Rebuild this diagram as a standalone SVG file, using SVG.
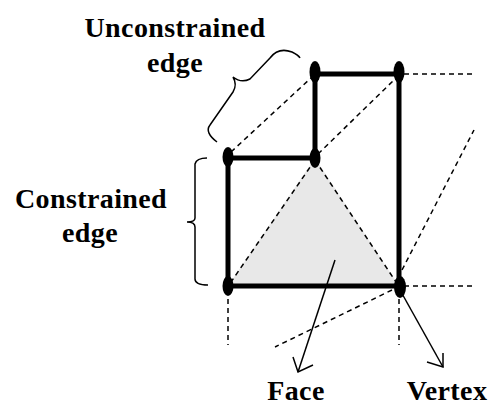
<svg xmlns="http://www.w3.org/2000/svg" width="492" height="407" viewBox="0 0 492 407">
<style>
.lbl{font-family:"Liberation Serif","Times New Roman",serif;font-weight:bold;font-size:28px;fill:#000;text-anchor:middle;letter-spacing:0.4px}
.edge{stroke:#000;stroke-width:5;fill:none;stroke-linecap:butt}
.dash{stroke:#000;stroke-width:1.5;fill:none;stroke-dasharray:5 4}
.thin{stroke:#000;stroke-width:1.5;fill:none}
.vtx{fill:#000}
</style>
<rect width="492" height="407" fill="#fff"/>
<g id="face-region">
<polygon points="315,158 228,286 399,286" fill="#e8e8e8"/>
</g>
<g id="connectors">
<line class="dash" x1="315" y1="160" x2="231" y2="282"/>
<line class="dash" x1="315" y1="160" x2="396" y2="282"/>
<line class="dash" x1="231" y1="152" x2="312" y2="77"/>
<line class="dash" x1="318" y1="154" x2="396" y2="78"/>
<line class="dash" x1="404" y1="74" x2="472" y2="74"/>
<line class="dash" x1="404" y1="286" x2="472" y2="286"/>
<line class="dash" x1="402" y1="270" x2="474" y2="130"/>
<line class="dash" x1="392" y1="290" x2="275" y2="347"/>
<line class="dash" x1="228" y1="299" x2="228" y2="345"/>
<line class="dash" x1="399" y1="299" x2="399" y2="345"/>
<line class="edge" x1="315" y1="74" x2="399" y2="74"/>
<line class="edge" x1="315" y1="74" x2="315" y2="158"/>
<line class="edge" x1="228" y1="158" x2="315" y2="158"/>
<line class="edge" x1="228" y1="158" x2="228" y2="286"/>
<line class="edge" x1="228" y1="286" x2="399" y2="286"/>
<line class="edge" x1="399" y1="74" x2="399" y2="286"/>
<g id="face-arrow">
<line class="thin" x1="335" y1="260" x2="298" y2="372"/>
<polyline class="thin" points="293,357 298,372 313,365"/>
</g>
<g id="vertex-arrow">
<line class="thin" x1="400" y1="290" x2="443" y2="367"/>
<polyline class="thin" points="427,362 443,367 443,353"/>
</g>
<path id="brace-unconstrained" class="thin" d="M217,142 C209,136 206,130 210,125 L233,92 C236,87 236,82 233,77 C238,81 244,82 250,79 L270,58 C276,50 284,49 292,52 C296,54 299,56 300,58"/>
<path id="brace-constrained" class="thin" d="M207,158 C201,158 196,160 195,164 L195,218 C195,221 192,222 187,222 C192,222 195,224 195,227 L195,279 C195,283 199,285 208,285"/>
</g>
<g id="vertex-A"><ellipse class="vtx" cx="228" cy="157" rx="5.5" ry="10"/></g>
<g id="vertex-B"><ellipse class="vtx" cx="315" cy="158" rx="5.5" ry="10"/></g>
<g id="vertex-C"><ellipse class="vtx" cx="315" cy="72" rx="5.5" ry="11"/></g>
<g id="vertex-D"><ellipse class="vtx" cx="399" cy="72" rx="5.5" ry="11"/></g>
<g id="vertex-E"><ellipse class="vtx" cx="228" cy="286" rx="5.5" ry="10"/></g>
<g id="vertex-F"><ellipse class="vtx" cx="400" cy="287" rx="6" ry="11"/></g>
<g id="label-unconstrained">
<text class="lbl" x="175" y="37">Unconstrained</text>
<text class="lbl" x="175" y="72">edge</text>
</g>
<g id="label-constrained">
<text class="lbl" x="91" y="208">Constrained</text>
<text class="lbl" x="90" y="242">edge</text>
</g>
<g id="label-face"><text class="lbl" x="296" y="400">Face</text></g>
<g id="label-vertex"><text class="lbl" x="447" y="400">Vertex</text></g>
</svg>
